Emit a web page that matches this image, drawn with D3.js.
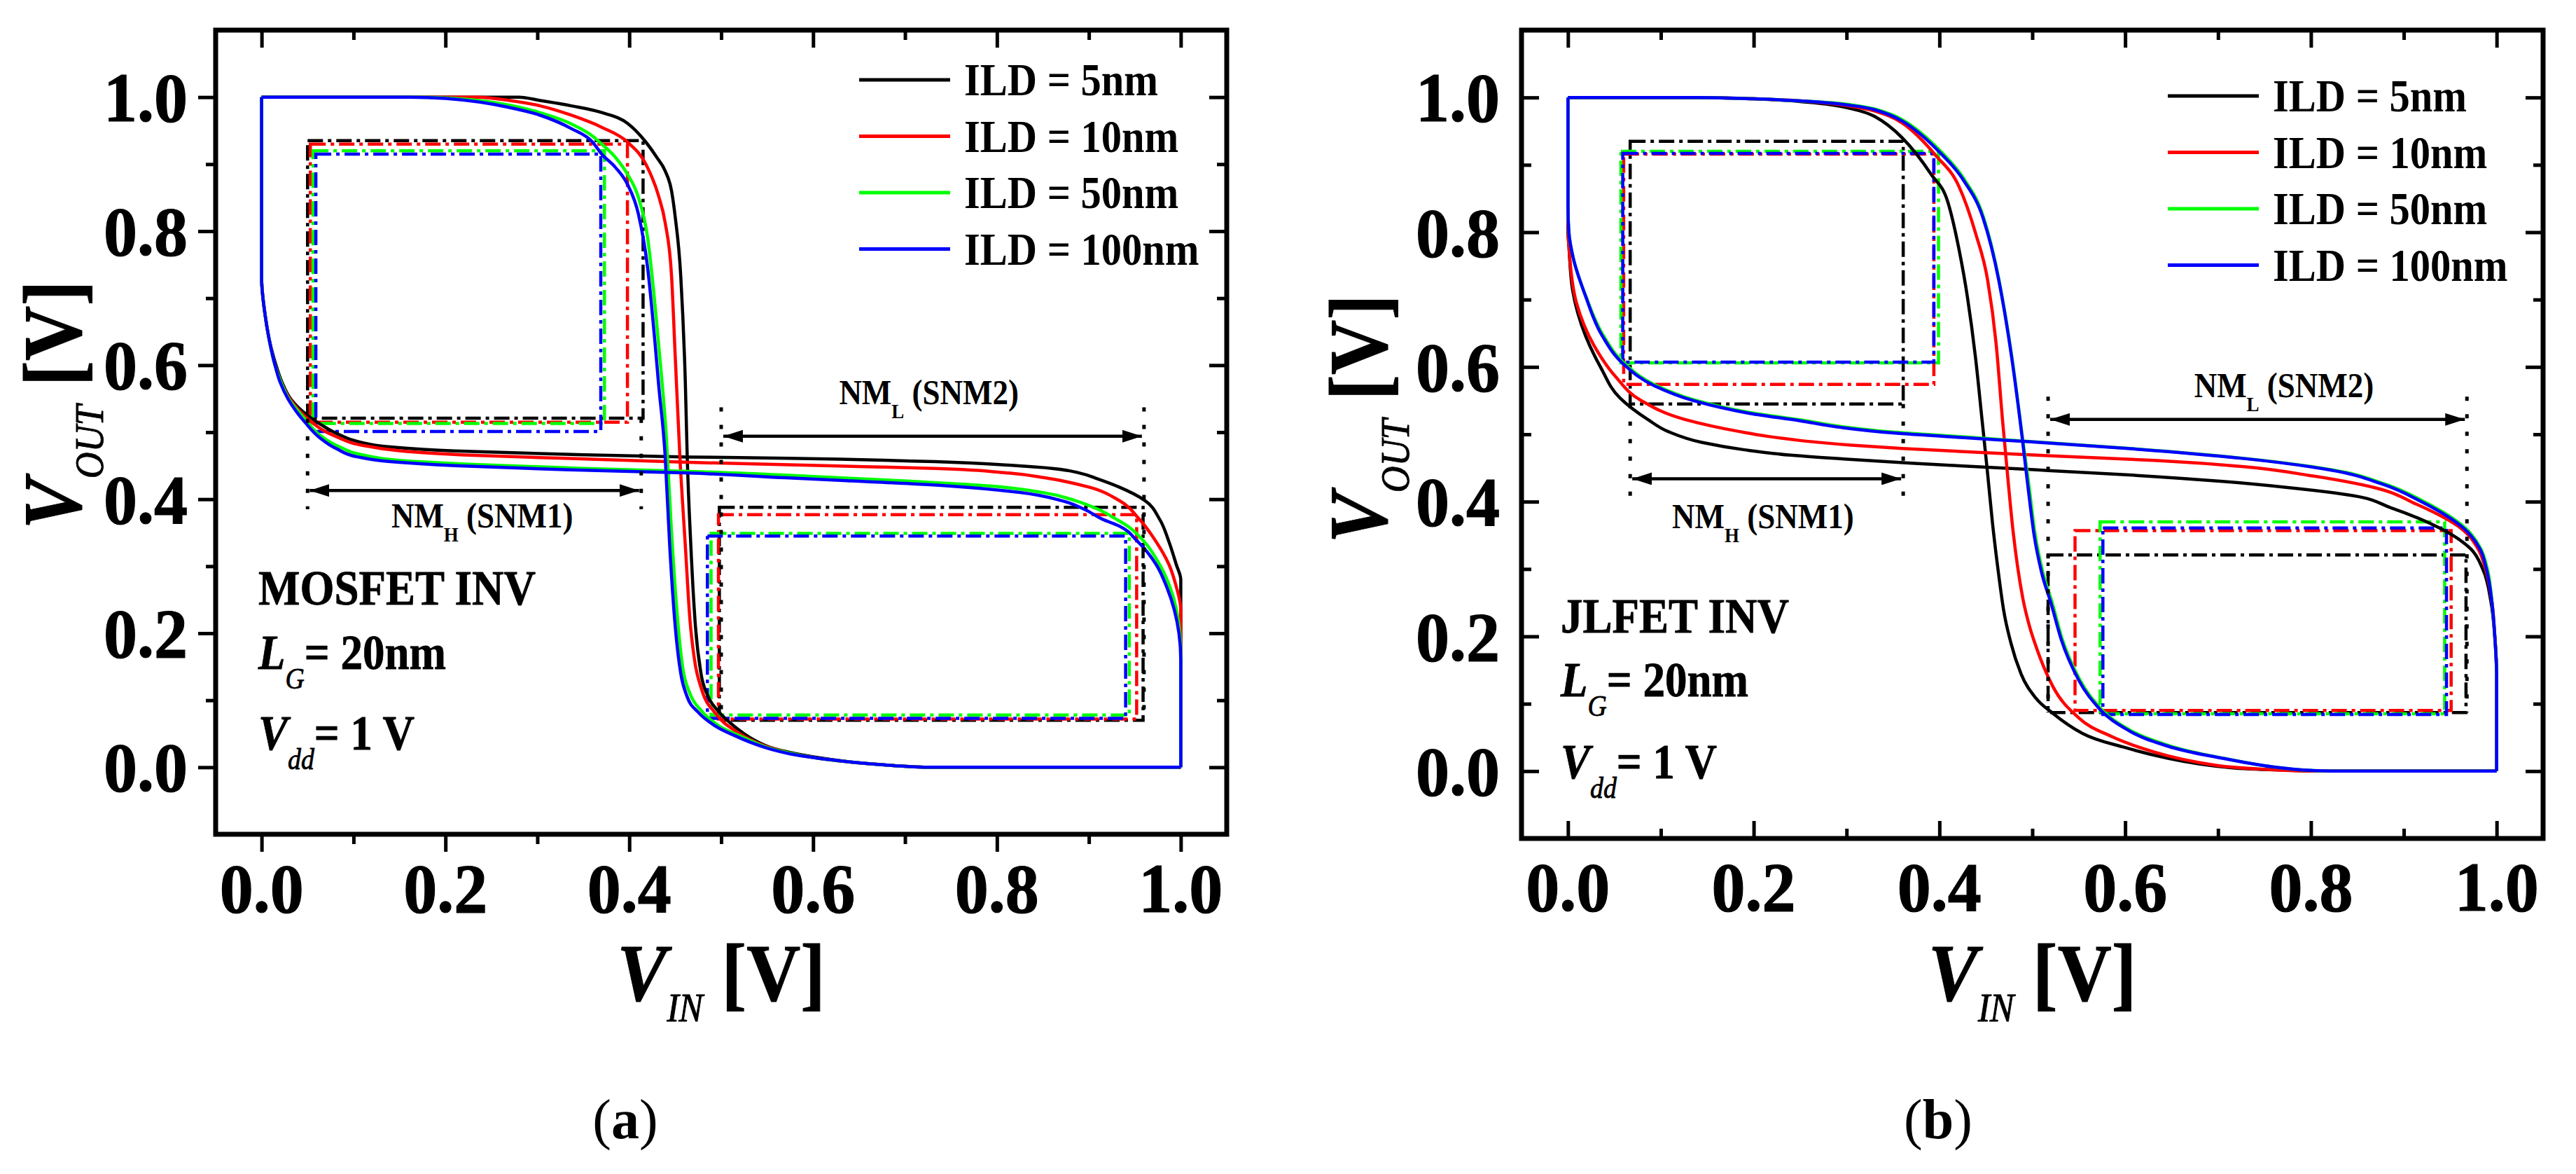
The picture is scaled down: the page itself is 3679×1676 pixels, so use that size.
<!DOCTYPE html>
<html><head><meta charset="utf-8">
<script src="https://cdn.jsdelivr.net/npm/d3@7/dist/d3.min.js"></script>
<style>body{margin:0;background:#fff}svg{display:block}text{white-space:pre}</style>
</head><body>
<svg id="c" width="3679" height="1676"></svg>
<script>
// ---------- data ----------
const xTicks = [0, 0.2, 0.4, 0.6, 0.8, 1.0];
const xMinor = [0.1, 0.3, 0.5, 0.7, 0.9];
const yTicks = [0, 0.2, 0.4, 0.6, 0.8, 1.0];
const yMinor = [0.1, 0.3, 0.5, 0.7, 0.9];
const seriesNames = ["ILD = 5nm", "ILD = 10nm", "ILD = 50nm", "ILD = 100nm"];

// MOSFET inverter VTC, [VIN, VOUT]
const mos5 = [[0,1],[0.28,1],[0.303,0.995],[0.337,0.987],[0.37,0.977],[0.398,0.961],[0.418,0.933],[0.43,0.91],[0.439,0.89],[0.446,0.86],[0.45,0.821],[0.456,0.733],[0.461,0.573],[0.463,0.465],[0.467,0.33],[0.472,0.21],[0.478,0.14],[0.486,0.105],[0.496,0.085],[0.51,0.066],[0.525,0.05],[0.549,0.032],[0.575,0.022],[0.603,0.015],[0.64,0.008],[0.673,0.004],[0.73,0],[1,0]];
const mos10 = [[0,1],[0.235,1],[0.27,0.995],[0.303,0.987],[0.337,0.973],[0.37,0.955],[0.398,0.933],[0.418,0.9],[0.432,0.852],[0.439,0.813],[0.446,0.733],[0.45,0.613],[0.455,0.465],[0.461,0.33],[0.466,0.22],[0.471,0.16],[0.479,0.115],[0.494,0.08],[0.518,0.052],[0.549,0.031],[0.575,0.021],[0.603,0.014],[0.64,0.008],[0.673,0.004],[0.73,0],[1,0]];
const mos50 = [[0,1],[0.17,1],[0.2,0.999],[0.27,0.988],[0.30,0.978],[0.337,0.96],[0.36,0.942],[0.37,0.93],[0.385,0.91],[0.398,0.885],[0.41,0.85],[0.42,0.79],[0.428,0.69],[0.434,0.6],[0.44,0.5],[0.446,0.35],[0.452,0.23],[0.458,0.15],[0.466,0.11],[0.478,0.085],[0.495,0.064],[0.52,0.047],[0.549,0.03],[0.575,0.021],[0.603,0.014],[0.64,0.008],[0.673,0.004],[0.73,0],[1,0]];
const mos100 = [[0,1],[0.16,1],[0.2,0.998],[0.268,0.985],[0.303,0.973],[0.337,0.953],[0.36,0.933],[0.37,0.915],[0.385,0.895],[0.398,0.87],[0.41,0.825],[0.42,0.745],[0.428,0.633],[0.432,0.57],[0.439,0.465],[0.444,0.33],[0.45,0.21],[0.456,0.14],[0.463,0.105],[0.475,0.082],[0.492,0.063],[0.515,0.047],[0.549,0.029],[0.575,0.02],[0.603,0.014],[0.64,0.008],[0.673,0.004],[0.73,0],[1,0]];

// JLFET inverter VTC, [VIN, VOUT]
const jl5 = [[0,1],[0.14,1],[0.2,0.998],[0.25,0.994],[0.3,0.985],[0.33,0.972],[0.36,0.94],[0.391,0.886],[0.409,0.845],[0.421,0.775],[0.43,0.705],[0.439,0.612],[0.446,0.52],[0.452,0.44],[0.457,0.37],[0.463,0.3],[0.469,0.24],[0.477,0.19],[0.488,0.144],[0.504,0.108],[0.522,0.086],[0.554,0.056],[0.6,0.035],[0.646,0.019],[0.714,0.005],[0.78,0.001],[0.8,0],[1,0]];
const jl10 = [[0,1],[0.14,1],[0.2,0.998],[0.25,0.995],[0.3,0.988],[0.33,0.98],[0.36,0.962],[0.396,0.914],[0.421,0.868],[0.439,0.798],[0.452,0.728],[0.461,0.635],[0.468,0.52],[0.474,0.43],[0.479,0.36],[0.484,0.305],[0.49,0.255],[0.497,0.215],[0.504,0.185],[0.522,0.126],[0.55,0.079],[0.586,0.051],[0.632,0.028],[0.696,0.009],[0.76,0.002],[0.82,0],[1,0]];
const jl50 = [[0,1],[0.14,1],[0.2,0.998],[0.25,0.995],[0.3,0.99],[0.33,0.983],[0.36,0.967],[0.40,0.922],[0.426,0.88],[0.447,0.824],[0.464,0.73],[0.478,0.615],[0.489,0.5],[0.496,0.428],[0.503,0.352],[0.511,0.297],[0.521,0.252],[0.532,0.197],[0.551,0.136],[0.573,0.094],[0.605,0.061],[0.647,0.038],[0.706,0.019],[0.76,0.006],[0.8,0.001],[0.84,0],[1,0]];
const jl100 = [[0,1],[0.14,1],[0.2,0.998],[0.25,0.995],[0.3,0.989],[0.33,0.982],[0.36,0.965],[0.40,0.919],[0.426,0.877],[0.447,0.821],[0.464,0.728],[0.478,0.612],[0.489,0.496],[0.495,0.426],[0.502,0.35],[0.51,0.295],[0.52,0.25],[0.531,0.196],[0.55,0.135],[0.572,0.093],[0.604,0.06],[0.646,0.037],[0.705,0.019],[0.76,0.006],[0.8,0.001],[0.84,0],[1,0]];

// noise-margin boxes [x0, yBottom, x1, yTop]
const mosBoxHigh = [[0.05,0.521,0.415,0.935],[0.053,0.515,0.398,0.930],[0.056,0.513,0.373,0.920],[0.059,0.501,0.369,0.915]];
const mosBoxLow  = [[0.498,0.070,0.959,0.388],[0.497,0.072,0.952,0.377],[0.489,0.078,0.944,0.349],[0.485,0.073,0.940,0.345]];
const jlBoxHigh  = [[0.067,0.545,0.361,0.935],[0.060,0.574,0.394,0.916],[0.057,0.606,0.399,0.920],[0.059,0.607,0.394,0.917]];
const jlBoxLow   = [[0.517,0.087,0.967,0.321],[0.546,0.090,0.951,0.357],[0.573,0.085,0.944,0.370],[0.576,0.084,0.946,0.361]];

// NM markers [xLeft, xRight, arrowY, dottedTop, dottedBottom]
const mosNMH = [0.05, 0.413, 0.413, 0.52, 0.385];
const mosNML = [0.50, 0.96, 0.494, 0.537, 0.07];
const jlNMH  = [0.067, 0.361, 0.434, 0.545, 0.405];
const jlNML  = [0.517, 0.968, 0.522, 0.556, 0.087];

// ---------- style / layout ----------
const colors = ["#000000", "#ff0000", "#00ff00", "#0000ff"];
const FONT = '"Liberation Serif","Times New Roman",serif';
const TX = 0.9;

const panels = [
  {series:[mos5,mos10,mos50,mos100], boxH:mosBoxHigh, boxL:mosBoxLow, nmH:mosNMH, nmL:mosNML,
   frame:{l:308,r:1752,t:43,b:1191}, out:true, device:"MOSFET INV", tag:"a",
   legend:{x:1227,y:114}, textX:369, textY:[863,955,1070], xLabY:1302, yLabGap:40,
   yTitle:{x:115,y:578}, xTitleY:1428, tagX:893,
   nmHLab:[0.24,0.358], nmLLab:[0.726,0.542]},
  {series:[jl5,jl10,jl50,jl100], boxH:jlBoxHigh, boxL:jlBoxLow, nmH:jlNMH, nmL:jlNML,
   frame:{l:2173,r:3632,t:43,b:1197}, out:false, device:"JLFET INV", tag:"b",
   legend:{x:3096,y:137}, textX:2229, textY:[903,994,1111], xLabY:1300, yLabGap:31,
   yTitle:{x:1980,y:598}, xTitleY:1428, tagX:2768,
   nmHLab:[0.21,0.361], nmLLab:[0.771,0.555]}
];

const svg = d3.select("#c");
svg.append("rect").attr("width",3679).attr("height",1676).attr("fill","#fff");

const defs = svg.append("defs");
defs.append("marker").attr("id","ah").attr("markerUnits","userSpaceOnUse")
  .attr("markerWidth",30).attr("markerHeight",18).attr("refX",28).attr("refY",9)
  .attr("orient","auto-start-reverse")
  .append("path").attr("d","M0,0 L28,9 L0,18 Z").attr("fill","#000");

function addText(parent, x, y, parts, anchor, rotate, sx, stroke) {
  const t = parent.append("text")
    .attr("transform", `translate(${x},${y})` + (rotate ? ` rotate(${rotate})` : "") + ` scale(${sx || TX},1)`)
    .attr("text-anchor", anchor || "start")
    .style("font-family", FONT).attr("fill", "#000");
  if (stroke) t.attr("stroke", "#000").attr("stroke-width", stroke);
  parts.forEach(p => {
    const s = t.append("tspan").text(p.t).style("font-size", p.size + "px")
      .style("font-weight", p.w || "bold").style("font-style", p.i ? "italic" : "normal");
    if (p.dy) s.attr("dy", p.dy);
    if (p.dx) s.attr("dx", p.dx);
  });
  return t;
}

panels.forEach(P => {
  const F = P.frame;
  const x = d3.scaleLinear().domain([-0.05, 1.05]).range([F.l, F.r]);
  const y = d3.scaleLinear().domain([-0.1, 1.1]).range([F.b, F.t]);
  const g = svg.append("g");

  // ticks
  const sgn = P.out ? 1 : -1;
  const mk = (axis, vals, size, tr) => {
    const a = g.append("g").attr("transform", tr)
      .call(axis.tickValues(vals).tickSizeInner(size).tickSizeOuter(0).tickFormat(""));
    a.select(".domain").remove();
    a.selectAll("line").attr("stroke", "#000").attr("stroke-width", 5);
  };
  mk(d3.axisBottom(x), xTicks, 25 * sgn, `translate(0,${F.b})`);
  mk(d3.axisBottom(x), xMinor, 14 * sgn, `translate(0,${F.b})`);
  mk(d3.axisLeft(y), yTicks, 25 * sgn, `translate(${F.l},0)`);
  mk(d3.axisLeft(y), yMinor, 14 * sgn, `translate(${F.l},0)`);
  mk(d3.axisTop(x), xTicks, -25, `translate(0,${F.t})`);
  mk(d3.axisTop(x), xMinor, -14, `translate(0,${F.t})`);
  mk(d3.axisRight(y), yTicks, -25, `translate(${F.r},0)`);
  mk(d3.axisRight(y), yMinor, -14, `translate(${F.r},0)`);

  // tick labels
  const fmt = d3.format(".1f");
  xTicks.forEach(v => addText(g, x(v), P.xLabY, [{t: fmt(v), size: 100}], "middle", 0, 0.96, 1.2));
  yTicks.forEach(v => addText(g, F.l - P.yLabGap, y(v) + 34, [{t: fmt(v), size: 100}], "end", 0, 0.96, 1.2));

  // NM boxes
  const boxes = (arr) => arr.forEach((b, i) => {
    g.append("rect").attr("x", x(b[0])).attr("y", y(b[3]))
      .attr("width", x(b[2]) - x(b[0])).attr("height", y(b[1]) - y(b[3]))
      .attr("fill", "none").attr("stroke", colors[i]).attr("stroke-width", 4.5)
      .attr("stroke-dasharray", "22,7,5,7");
  });
  boxes(P.boxH); boxes(P.boxL);

  // curves (VTC and its mirror)
  const lineV = d3.line().x(d => x(d[0])).y(d => y(d[1])).curve(d3.curveMonotoneX);
  const lineM = d3.line().x(d => x(d[1])).y(d => y(d[0])).curve(d3.curveMonotoneY);
  P.series.forEach((s, i) => {
    g.append("path").attr("d", lineV(s)).attr("fill", "none").attr("stroke", colors[i]).attr("stroke-width", 4.5);
    g.append("path").attr("d", lineM(s)).attr("fill", "none").attr("stroke", colors[i]).attr("stroke-width", 4.5);
  });

  // NM markers
  const nm = (m) => {
    [m[0], m[1]].forEach(xv => g.append("line").attr("x1", x(xv)).attr("x2", x(xv))
      .attr("y1", y(m[3])).attr("y2", y(m[4])).attr("stroke", "#000").attr("stroke-width", 5)
      .attr("stroke-dasharray", "6,19"));
    g.append("line").attr("x1", x(m[0]) + 3).attr("x2", x(m[1]) - 3).attr("y1", y(m[2])).attr("y2", y(m[2]))
      .attr("stroke", "#000").attr("stroke-width", 4.5)
      .attr("marker-start", "url(#ah)").attr("marker-end", "url(#ah)");
  };
  nm(P.nmH); nm(P.nmL);
  addText(g, x(P.nmHLab[0]), y(P.nmHLab[1]), [{t:"NM", size:50},{t:"H", size:30, dy:20},{t:" (SNM1)", size:50, dy:-20}], "middle");
  addText(g, x(P.nmLLab[0]), y(P.nmLLab[1]), [{t:"NM", size:50},{t:"L", size:30, dy:20},{t:" (SNM2)", size:50, dy:-20}], "middle");

  // device text
  addText(g, P.textX, P.textY[0], [{t: P.device, size: 70}], "start", 0, 0.9, 0.8);
  addText(g, P.textX, P.textY[1], [{t:"L", size:70, i:true},{t:"G", size:42, w:"normal", i:true, dy:28},{t:"= 20nm", size:70, dy:-28}], "start", 0, 0.9, 0.8);
  addText(g, P.textX, P.textY[2], [{t:"V", size:70, i:true},{t:"dd", size:42, w:"normal", i:true, dy:28},{t:"= 1 V", size:70, dy:-28}], "start", 0, 0.9, 0.8);

  // legend
  P.series.forEach((s, i) => {
    const ly = P.legend.y + i * 80.5;
    g.append("line").attr("x1", P.legend.x).attr("x2", P.legend.x + 130).attr("y1", ly).attr("y2", ly)
      .attr("stroke", colors[i]).attr("stroke-width", 5);
    addText(g, P.legend.x + 150, ly + 22, [{t: seriesNames[i], size: 65}]);
  });

  // frame
  g.append("rect").attr("x", F.l).attr("y", F.t).attr("width", F.r - F.l).attr("height", F.b - F.t)
    .attr("fill", "none").attr("stroke", "#000").attr("stroke-width", 7);

  // axis titles
  addText(g, (F.l + F.r) / 2, P.xTitleY, [{t:"V", size:116, i:true},{t:"IN", size:56, w:"normal", i:true, dy:30},{t:" [V]", size:116, dy:-30}], "middle", 0, 0.92, 1);
  addText(g, P.yTitle.x, P.yTitle.y, [{t:"V", size:118, i:true},{t:"OUT", size:57, w:"normal", i:true, dy:32},{t:" [V]", size:118, dy:-32}], "middle", -90, 0.92, 1);

  // panel tag
  addText(g, P.tagX, 1625, [{t:"(", size:80, w:"normal"},{t:P.tag, size:80},{t:")", size:80, w:"normal"}], "middle", 0, 1);
});
</script>
</body></html>
